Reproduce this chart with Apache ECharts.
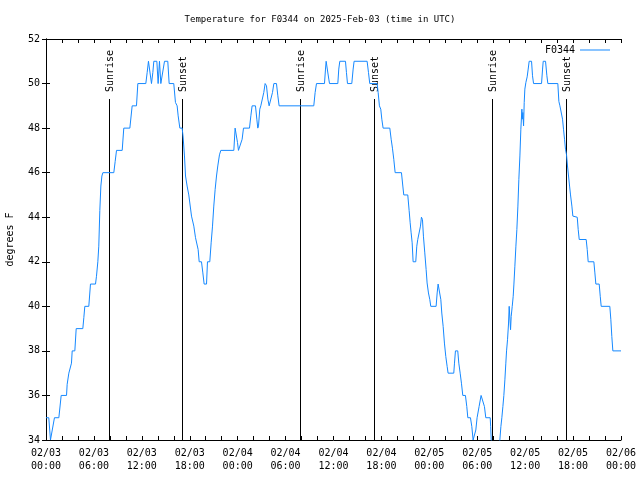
<!DOCTYPE html>
<html><head><meta charset="utf-8">
<script src="https://cdn.jsdelivr.net/npm/echarts@6/dist/echarts.min.js"></script>
<style>html,body{margin:0;padding:0;background:#fff}#c{width:640px;height:480px}</style>
</head><body><div id="c"></div>
<script>
// hours since 2025-02-03 00:00 UTC
const hours = [
0,0.35,0.56,0.77,1.06,1.61,1.9,2.57,2.65,2.86,3.07,3.19,3.28,3.61,3.78,4.61,4.74,4.86,5.36,5.57,6.2,6.32,6.49,6.61,6.74,6.87,7.0,7.12,8.49,8.66,8.83,9.54,9.74,10.5,10.79,11.33,11.5,12.5,12.67,12.83,13.08,13.21,13.38,13.5,13.88,14.04,14.21,14.38,14.59,14.84,15.25,15.42,16.0,16.21,16.42,16.55,16.76,17.05,
17.17,17.34,17.47,17.67,17.88,18.09,18.22,18.38,18.51,18.72,18.93,19.05,19.18,19.47,19.64,19.8,20.1,20.22,20.51,20.68,20.85,21.01,21.18,21.35,21.51,21.72,21.89,23.52,23.68,23.81,23.98,24.1,24.35,24.56,24.73,25.48,25.65,25.81,26.23,26.4,26.52,26.61,26.77,26.9,27.11,27.27,27.44,27.61,27.78,27.94,28.19,28.36,28.53,28.86,29.03,29.19,33.53,33.7,33.87,34.87,35.0,35.08,35.29,35.41,35.5,
36.54,36.66,36.79,37.5,37.62,37.75,38.29,38.46,38.58,40.21,40.38,40.54,41.46,41.59,41.75,41.92,42.05,42.21,43.05,43.22,43.38,43.55,43.72,44.51,44.68,44.8,45.3,45.47,45.6,45.72,45.85,45.97,46.3,46.43,46.55,46.76,46.89,47.01,47.14,47.26,47.43,47.6,47.72,47.89,48.06,48.18,48.85,48.98,49.1,49.31,49.44,49.56,49.73,49.89,50.06,50.23,50.35,51.06,51.15,51.27,51.56,51.69,51.86,52.02,52.19,52.52,52.69,52.82,53.15,53.32,53.48,53.65,53.82,53.98,54.23,54.48,54.73,54.9,55.07,55.62,
55.68,55.75,55.83,56.2,56.6,56.83,56.96,57.08,57.21,57.33,57.46,57.58,57.67,57.79,57.92,58.0,58.08,58.17,58.25,58.38,58.5,58.59,58.71,58.84,58.96,59.09,59.21,59.34,59.46,59.59,59.63,59.71,59.8,59.88,59.96,60.09,60.25,60.38,60.5,60.8,60.92,61.05,62.05,62.18,62.26,62.55,62.72,62.84,64.09,64.22,64.35,64.55,64.68,64.8,64.93,65.05,65.18,65.3,65.43,65.56,65.68,65.85,65.97,66.52,66.64,66.77,67.64,67.77,67.89,68.6,68.73,68.85,69.27,69.4,69.52,70.6,70.73,70.85,70.98,72
];
const tempsF = [
35,35,34,34,35,35,36,36,36.5,37,37,37.45,38,38,39,39,39.5,40,40,41,41,41.35,42,42.7,44.3,45.4,45.85,46,46,46.5,47,47,48,48,49,49,50,50,50.5,51,51,50,50.5,51,51,50,51,50,50,51,51,50,50,49.15,49,48.55,48,48,
47.6,46.75,45.85,45.4,45,44.95,44.05,44,43.6,43.08,43,42.55,42,42,41.5,41,41,42,42,42.85,43.6,44.5,45.25,45.85,46.3,46.8,47,47,48,48,47.35,47,47,47.5,48,48,48.55,49,49,48.4,48,48.1,48.85,49,49,49.6,50,49.9,49.3,49,49,49.6,50,50,49.45,49,49,49.6,50,50,50.65,51,51,50.2,50,
50,50.65,51,51,50.5,50,50,50.65,51,51,50.5,50,50,49.6,49,48.85,48.4,48,48,47.5,47.1,46.6,46,46,45.4,45,45,44.3,43.75,43.3,42.85,42,42,42.7,43,43,43.6,44,43.9,43.15,42.4,41.65,41.05,40.6,40.3,40,40,40.6,41,41,40.3,39.7,39.1,38.35,37.75,37.3,37,37,37.45,38,38,37.45,37,36.55,36,36,35.5,35,35,34.6,34,34,34.45,35,35.5,36,36,35.5,35,35,
34.6,34,33.8,33,33,34,34.6,35,35.5,36,36.7,37.45,38,38.5,39.25,40,40,38.95,39.55,40,40.45,41,41.8,42.7,43.45,44.5,45.7,46.75,47.95,48.85,48.4,48.7,48.1,49.15,49.75,50.05,50.3,50.65,51,51,50.35,50,50,50.65,51,51,50.35,50,50,49.2,49,49,48.4,47.95,47.5,47.05,46.8,46.3,45.85,45.4,45,44.5,44.05,44,43.45,43,43,42.55,42,42,41.5,41,41,40.45,40,40,39.4,38.65,38,38
];
const sunEventHours = [7.86, 17.05, 31.78, 41.05, 55.82, 65.14];
const sunEventLabels = ['Sunrise', 'Sunset', 'Sunrise', 'Sunset', 'Sunrise', 'Sunset'];
const xTickLabels = ['02/03\n00:00','02/03\n06:00','02/03\n12:00','02/03\n18:00','02/04\n00:00','02/04\n06:00','02/04\n12:00','02/04\n18:00','02/05\n00:00','02/05\n06:00','02/05\n12:00','02/05\n18:00','02/06\n00:00'];
const seriesName = 'F0344';
const titleText = 'Temperature for F0344 on 2025-Feb-03 (time in UTC)';
const yAxisName = 'degrees F';

const FONT = 'DejaVu Sans Mono';
const FS = 10;
const sunLineTop = 49.32;
const yMin = 34, yMax = 52;

const chart = echarts.init(document.getElementById('c'), null, {renderer: 'canvas'});
const tickStyle = {show: true, inside: true, length: 4, lineStyle: {color: '#000', width: 1}};
const lineStyleAx = {show: true, lineStyle: {color: '#000', width: 1}};
const option = {
  animation: false,
  backgroundColor: '#fff',
  title: {text: titleText, left: 'center', top: 15, padding: 0,
    textStyle: {fontFamily: FONT, fontSize: 9, fontWeight: 'normal', color: '#000'}},
  legend: {data: [seriesName], right: 25, top: 40, align: 'right', icon: 'rect',
    itemWidth: 30, itemHeight: 1, itemGap: 5,
    textStyle: {fontFamily: FONT, fontSize: FS, color: '#000'}},
  grid: {left: 46, right: 19, top: 39, bottom: 40, containLabel: false, outerBoundsMode: 'none'},
  xAxis: [
    {type: 'value', min: 0, max: 72, interval: 2, position: 'bottom',
     axisLine: lineStyleAx, axisTick: tickStyle, splitLine: {show: false},
     axisLabel: {fontFamily: FONT, fontSize: FS, color: '#000', margin: 7, lineHeight: 13,
       showMinLabel: true, showMaxLabel: true,
       formatter: v => (Math.round(v) % 6 === 0 ? xTickLabels[Math.round(v) / 6] : '')}},
    {type: 'value', min: 0, max: 72, interval: 2, position: 'top',
     axisLine: lineStyleAx, axisTick: tickStyle, splitLine: {show: false}, axisLabel: {show: false}}
  ],
  yAxis: [
    {type: 'value', min: yMin, max: yMax, interval: 2, position: 'left',
     axisLine: lineStyleAx, axisTick: tickStyle, splitLine: {show: false},
     name: yAxisName, nameLocation: 'middle', nameRotate: 90, nameGap: 31,
     nameTextStyle: {fontFamily: FONT, fontSize: FS, color: '#000'},
     axisLabel: {fontFamily: FONT, fontSize: FS, color: '#000', margin: 6}},
    {type: 'value', min: yMin, max: yMax, interval: 2, position: 'right',
     axisLine: lineStyleAx, axisTick: tickStyle, splitLine: {show: false}, axisLabel: {show: false}}
  ],
  series: [
    {name: seriesName, type: 'line', xAxisIndex: 0, yAxisIndex: 0,
     data: hours.map((h, i) => [h, tempsF[i]]),
     showSymbol: false, symbol: 'none', clip: true,
     lineStyle: {color: '#1588ff', width: 1}, itemStyle: {color: '#1588ff'}},
    {type: 'custom', xAxisIndex: 0, yAxisIndex: 0, silent: true,
     data: sunEventHours.map(h => [h, yMin]),
     renderItem: (params, api) => {
       const h = api.value(0);
       const p0 = api.coord([h, yMin]);
       const p1 = api.coord([h, sunLineTop]);
       const x = Math.round(p0[0]) + 0.5;
       return {type: 'group', children: [
         {type: 'line', shape: {x1: x, y1: p0[1], x2: x, y2: Math.round(p1[1])},
          style: {stroke: '#000', lineWidth: 1}},
         {type: 'text', x: x + 0.5, y: Math.round(p1[1]) - 7, rotation: Math.PI / 2,
          style: {text: sunEventLabels[params.dataIndex], font: FS + 'px "' + FONT + '"',
                  fill: '#000', align: 'left', verticalAlign: 'middle'}}
       ]};
     }}
  ]
};
chart.setOption(option);
</script></body></html>
